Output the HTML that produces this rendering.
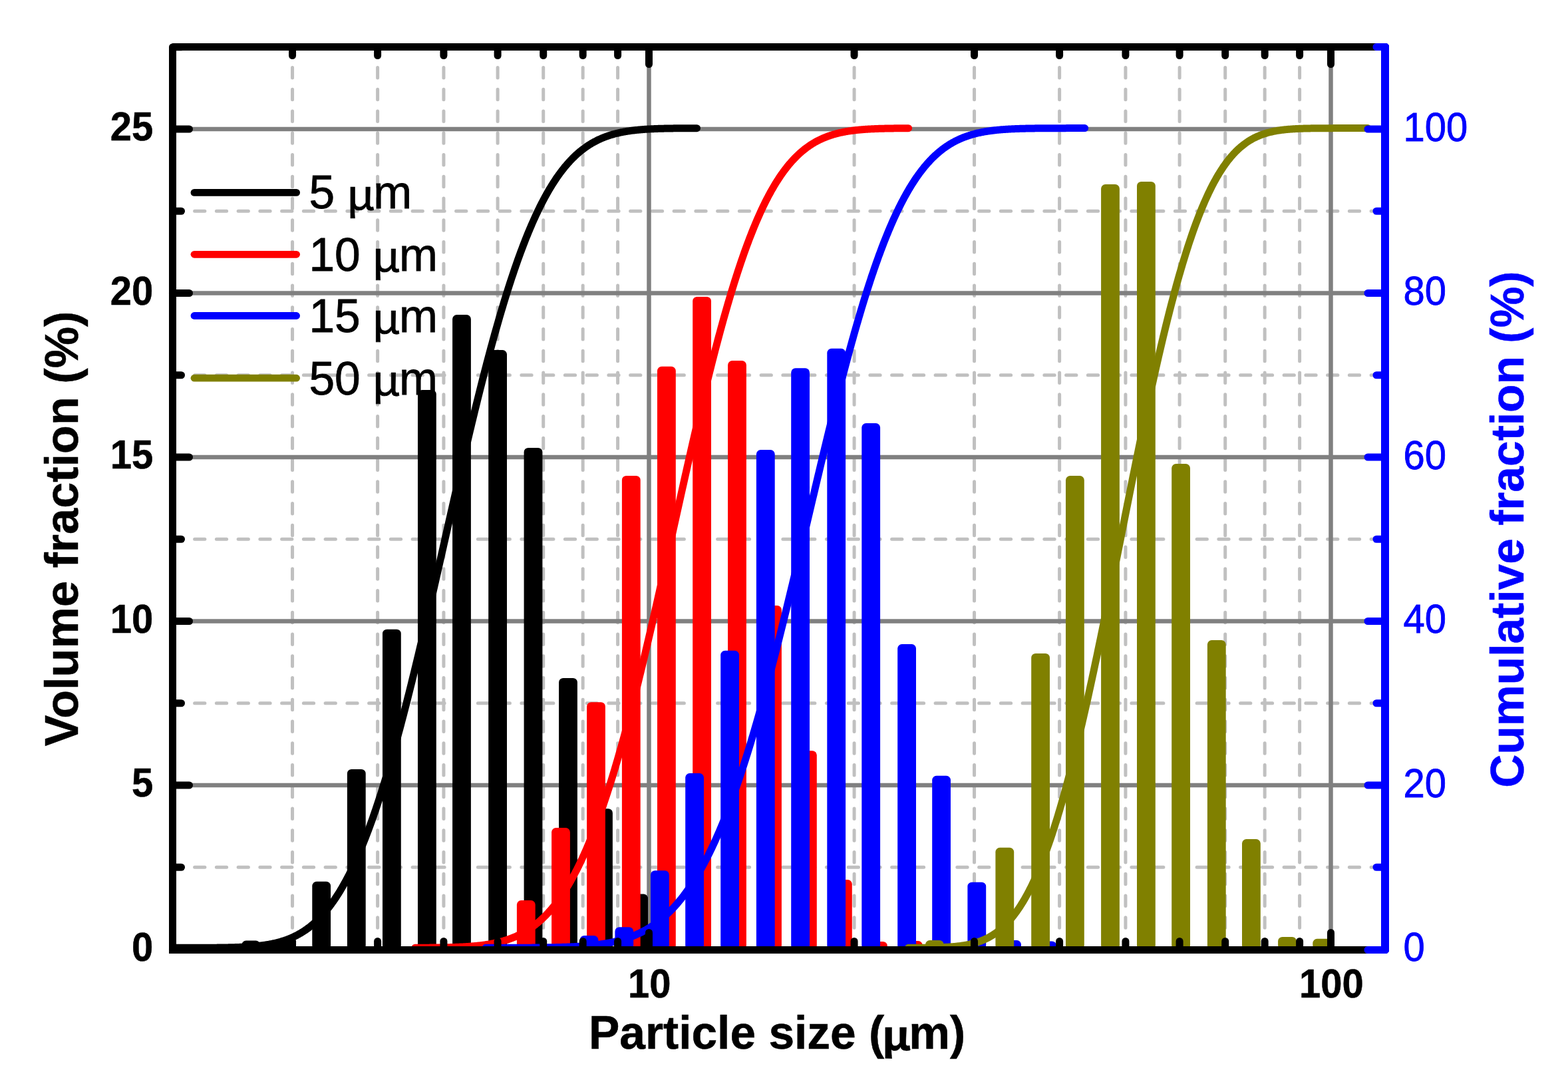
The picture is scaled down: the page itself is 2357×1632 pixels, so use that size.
<!DOCTYPE html>
<html><head><meta charset="utf-8"><title>Particle size distribution</title>
<style>html,body{margin:0;padding:0;background:#fff;}svg{display:block;}</style>
</head><body>
<svg xmlns="http://www.w3.org/2000/svg" width="2357" height="1632" viewBox="0 0 2357 1632">
<rect width="2357" height="1632" fill="#fff"/>
<g stroke="#c0c0c0" stroke-width="5" stroke-linecap="round" stroke-dasharray="15.3 17.45" fill="none">
<line x1="439.55" y1="68.85" x2="439.55" y2="1427.5"/>
<line x1="567.61" y1="68.85" x2="567.61" y2="1427.5"/>
<line x1="666.94" y1="68.85" x2="666.94" y2="1427.5"/>
<line x1="748.11" y1="68.85" x2="748.11" y2="1427.5"/>
<line x1="816.73" y1="68.85" x2="816.73" y2="1427.5"/>
<line x1="876.17" y1="68.85" x2="876.17" y2="1427.5"/>
<line x1="928.6" y1="68.85" x2="928.6" y2="1427.5"/>
<line x1="1284.06" y1="68.85" x2="1284.06" y2="1427.5"/>
<line x1="1464.55" y1="68.85" x2="1464.55" y2="1427.5"/>
<line x1="1592.61" y1="68.85" x2="1592.61" y2="1427.5"/>
<line x1="1691.94" y1="68.85" x2="1691.94" y2="1427.5"/>
<line x1="1773.11" y1="68.85" x2="1773.11" y2="1427.5"/>
<line x1="1841.73" y1="68.85" x2="1841.73" y2="1427.5"/>
<line x1="1901.17" y1="68.85" x2="1901.17" y2="1427.5"/>
<line x1="1953.6" y1="68.85" x2="1953.6" y2="1427.5"/>
<line x1="259.85" y1="1303.25" x2="2082" y2="1303.25"/>
<line x1="259.85" y1="1056.75" x2="2082" y2="1056.75"/>
<line x1="259.85" y1="810.25" x2="2082" y2="810.25"/>
<line x1="259.85" y1="563.75" x2="2082" y2="563.75"/>
<line x1="259.85" y1="317.25" x2="2082" y2="317.25"/>
</g>
<g stroke="#808080" stroke-width="6.5" fill="none">
<line x1="975.5" y1="70.5" x2="975.5" y2="1427.5"/>
<line x1="2000.5" y1="70.5" x2="2000.5" y2="1427.5"/>
<line x1="259.5" y1="1180" x2="2082" y2="1180"/>
<line x1="259.5" y1="933.5" x2="2082" y2="933.5"/>
<line x1="259.5" y1="687" x2="2082" y2="687"/>
<line x1="259.5" y1="440.5" x2="2082" y2="440.5"/>
<line x1="259.5" y1="194" x2="2082" y2="194"/>
</g>
<g fill="#000000">
<rect x="363.3" y="1413.6" width="27.8" height="13.9" rx="6.5" ry="6.5"/>
<rect x="416.5" y="1414" width="27.8" height="13.5" rx="6.5" ry="6.5"/>
<rect x="469.3" y="1324.8" width="27.8" height="102.7" rx="6.5" ry="6.5"/>
<rect x="521.9" y="1155.9" width="27.8" height="271.6" rx="6.5" ry="6.5"/>
<rect x="575" y="945.7" width="27.8" height="481.8" rx="6.5" ry="6.5"/>
<rect x="628" y="585.9" width="27.8" height="841.6" rx="6.5" ry="6.5"/>
<rect x="680.1" y="473" width="27.8" height="954.5" rx="6.5" ry="6.5"/>
<rect x="734.2" y="526.1" width="27.8" height="901.4" rx="6.5" ry="6.5"/>
<rect x="787.6" y="672.9" width="27.8" height="754.6" rx="6.5" ry="6.5"/>
<rect x="840.1" y="1018.9" width="27.8" height="408.6" rx="6.5" ry="6.5"/>
<rect x="893.1" y="1215.2" width="27.8" height="212.3" rx="6.5" ry="6.5"/>
<rect x="946.2" y="1343.5" width="27.8" height="84" rx="6.5" ry="6.5"/>
</g>
<g fill="#ff0000">
<rect x="670" y="1421" width="27.8" height="6.5" rx="6.5" ry="6.5"/>
<rect x="723.5" y="1420" width="27.8" height="7.5" rx="6.5" ry="6.5"/>
<rect x="776.9" y="1353.1" width="27.8" height="74.4" rx="6.5" ry="6.5"/>
<rect x="829.1" y="1244" width="27.8" height="183.5" rx="6.5" ry="6.5"/>
<rect x="882.1" y="1055.2" width="27.8" height="372.3" rx="6.5" ry="6.5"/>
<rect x="934.9" y="714.9" width="27.8" height="712.6" rx="6.5" ry="6.5"/>
<rect x="988" y="550.8" width="27.8" height="876.7" rx="6.5" ry="6.5"/>
<rect x="1041.2" y="445.9" width="27.8" height="981.6" rx="6.5" ry="6.5"/>
<rect x="1094.1" y="542" width="27.8" height="885.5" rx="6.5" ry="6.5"/>
<rect x="1147.1" y="910.1" width="27.8" height="517.4" rx="6.5" ry="6.5"/>
<rect x="1200" y="1128.3" width="27.8" height="299.2" rx="6.5" ry="6.5"/>
<rect x="1253" y="1322" width="27.8" height="105.5" rx="6.5" ry="6.5"/>
<rect x="1306" y="1415" width="27.8" height="12.5" rx="6.5" ry="6.5"/>
<rect x="1359" y="1414" width="27.8" height="13.5" rx="6.5" ry="6.5"/>
</g>
<g fill="#0000ff">
<rect x="766" y="1421" width="27.8" height="6.5" rx="6.5" ry="6.5"/>
<rect x="819" y="1420" width="27.8" height="7.5" rx="6.5" ry="6.5"/>
<rect x="871.6" y="1406.1" width="27.8" height="21.4" rx="6.5" ry="6.5"/>
<rect x="924.4" y="1393.2" width="27.8" height="34.3" rx="6.5" ry="6.5"/>
<rect x="978" y="1308.2" width="27.8" height="119.3" rx="6.5" ry="6.5"/>
<rect x="1030.2" y="1162" width="27.8" height="265.5" rx="6.5" ry="6.5"/>
<rect x="1083.2" y="977.8" width="27.8" height="449.7" rx="6.5" ry="6.5"/>
<rect x="1136.9" y="676.1" width="27.8" height="751.4" rx="6.5" ry="6.5"/>
<rect x="1189.2" y="553.3" width="27.8" height="874.2" rx="6.5" ry="6.5"/>
<rect x="1243.3" y="523.8" width="27.8" height="903.7" rx="6.5" ry="6.5"/>
<rect x="1295.3" y="636" width="27.8" height="791.5" rx="6.5" ry="6.5"/>
<rect x="1349.2" y="968" width="27.8" height="459.5" rx="6.5" ry="6.5"/>
<rect x="1401.2" y="1165.8" width="27.8" height="261.7" rx="6.5" ry="6.5"/>
<rect x="1454.4" y="1325.7" width="27.8" height="101.8" rx="6.5" ry="6.5"/>
<rect x="1507.2" y="1413" width="27.8" height="14.5" rx="6.5" ry="6.5"/>
<rect x="1560.2" y="1414.4" width="27.8" height="13.1" rx="6.5" ry="6.5"/>
</g>
<g fill="#808000">
<rect x="1391" y="1413" width="27.8" height="14.5" rx="6.5" ry="6.5"/>
<rect x="1496.4" y="1273.8" width="27.8" height="153.7" rx="6.5" ry="6.5"/>
<rect x="1550.2" y="981.9" width="27.8" height="445.6" rx="6.5" ry="6.5"/>
<rect x="1602" y="715" width="27.8" height="712.5" rx="6.5" ry="6.5"/>
<rect x="1655.1" y="277.1" width="27.8" height="1150.4" rx="6.5" ry="6.5"/>
<rect x="1709" y="272.9" width="27.8" height="1154.6" rx="6.5" ry="6.5"/>
<rect x="1761.2" y="697" width="27.8" height="730.5" rx="6.5" ry="6.5"/>
<rect x="1814.9" y="962" width="27.8" height="465.5" rx="6.5" ry="6.5"/>
<rect x="1867" y="1261" width="27.8" height="166.5" rx="6.5" ry="6.5"/>
<rect x="1921.1" y="1407.9" width="27.8" height="19.6" rx="6.5" ry="6.5"/>
<rect x="1973.3" y="1410.8" width="27.8" height="16.7" rx="6.5" ry="6.5"/>
</g>
<path d="M259.5 1424.3 L260.5 1424.3 L261.5 1424.3 L262.5 1424.3 L263.5 1424.3 L264.5 1424.3 L265.5 1424.3 L266.5 1424.3 L267.5 1424.3 L268.5 1424.29 L269.5 1424.29 L270.5 1424.29 L271.5 1424.29 L272.5 1424.29 L273.5 1424.29 L274.5 1424.29 L275.5 1424.29 L276.5 1424.29 L277.5 1424.29 L278.5 1424.29 L279.5 1424.29 L280.5 1424.29 L281.5 1424.29 L282.5 1424.29 L283.5 1424.29 L284.5 1424.28 L285.5 1424.28 L286.5 1424.28 L287.5 1424.28 L288.5 1424.28 L289.5 1424.28 L290.5 1424.28 L291.5 1424.28 L292.5 1424.27 L293.5 1424.27 L294.5 1424.27 L295.5 1424.27 L296.5 1424.27 L297.5 1424.26 L298.5 1424.26 L299.5 1424.26 L300.5 1424.26 L301.5 1424.25 L302.5 1424.25 L303.5 1424.25 L304.5 1424.25 L305.5 1424.24 L306.5 1424.24 L307.5 1424.24 L308.5 1424.23 L309.5 1424.23 L310.5 1424.22 L311.5 1424.22 L312.5 1424.21 L313.5 1424.21 L314.5 1424.2 L315.5 1424.2 L316.5 1424.19 L317.5 1424.19 L318.5 1424.18 L319.5 1424.17 L320.5 1424.17 L321.5 1424.16 L322.5 1424.15 L323.5 1424.14 L324.5 1424.14 L325.5 1424.13 L326.5 1424.12 L327.5 1424.11 L328.5 1424.1 L329.5 1424.09 L330.5 1424.08 L331.5 1424.06 L332.5 1424.05 L333.5 1424.04 L334.5 1424.02 L335.5 1424.01 L336.5 1424 L337.5 1423.98 L338.5 1423.96 L339.5 1423.95 L340.5 1423.93 L341.5 1423.91 L342.5 1423.89 L343.5 1423.87 L344.5 1423.85 L345.5 1423.83 L346.5 1423.81 L347.5 1423.78 L348.5 1423.76 L349.5 1423.73 L350.5 1423.71 L351.5 1423.68 L352.5 1423.65 L353.5 1423.62 L354.5 1423.59 L355.5 1423.55 L356.5 1423.52 L357.5 1423.49 L358.5 1423.45 L359.5 1423.41 L360.5 1423.37 L361.5 1423.33 L362.5 1423.29 L363.5 1423.24 L364.5 1423.19 L365.5 1423.15 L366.5 1423.1 L367.5 1423.04 L368.5 1422.99 L369.5 1422.93 L370.5 1422.88 L371.5 1422.82 L372.5 1422.75 L373.5 1422.69 L374.5 1422.62 L375.5 1422.55 L376.5 1422.48 L377.5 1422.41 L378.5 1422.33 L379.5 1422.25 L380.5 1422.17 L381.5 1422.08 L382.5 1421.99 L383.5 1421.9 L384.5 1421.81 L385.5 1421.71 L386.5 1421.61 L387.5 1421.5 L388.5 1421.4 L389.5 1421.29 L390.5 1421.17 L391.5 1421.05 L392.5 1420.93 L393.5 1420.8 L394.5 1420.67 L395.5 1420.54 L396.5 1420.4 L397.5 1420.26 L398.5 1420.11 L399.5 1419.96 L400.5 1419.8 L401.5 1419.64 L402.5 1419.47 L403.5 1419.3 L404.5 1419.12 L405.5 1418.94 L406.5 1418.76 L407.5 1418.56 L408.5 1418.36 L409.5 1418.16 L410.5 1417.95 L411.5 1417.73 L412.5 1417.51 L413.5 1417.28 L414.5 1417.05 L415.5 1416.81 L416.5 1416.56 L417.5 1416.31 L418.5 1416.04 L419.5 1415.77 L420.5 1415.5 L421.5 1415.22 L422.5 1414.92 L423.5 1414.63 L424.5 1414.32 L425.5 1414.01 L426.5 1413.68 L427.5 1413.35 L428.5 1413.01 L429.5 1412.67 L430.5 1412.31 L431.5 1411.94 L432.5 1411.57 L433.5 1411.18 L434.5 1410.79 L435.5 1410.39 L436.5 1409.98 L437.5 1409.55 L438.5 1409.12 L439.5 1408.68 L440.5 1408.23 L441.5 1407.76 L442.5 1407.29 L443.5 1406.8 L444.5 1406.31 L445.5 1405.8 L446.5 1405.28 L447.5 1404.75 L448.5 1404.21 L449.5 1403.65 L450.5 1403.08 L451.5 1402.51 L452.5 1401.91 L453.5 1401.31 L454.5 1400.69 L455.5 1400.06 L456.5 1399.42 L457.5 1398.76 L458.5 1398.09 L459.5 1397.41 L460.5 1396.71 L461.5 1396 L462.5 1395.27 L463.5 1394.53 L464.5 1393.77 L465.5 1393 L466.5 1392.21 L467.5 1391.41 L468.5 1390.6 L469.5 1389.76 L470.5 1388.92 L471.5 1388.05 L472.5 1387.17 L473.5 1386.27 L474.5 1385.36 L475.5 1384.43 L476.5 1383.48 L477.5 1382.52 L478.5 1381.54 L479.5 1380.54 L480.5 1379.52 L481.5 1378.49 L482.5 1377.44 L483.5 1376.37 L484.5 1375.28 L485.5 1374.17 L486.5 1373.05 L487.5 1371.9 L488.5 1370.74 L489.5 1369.56 L490.5 1368.35 L491.5 1367.13 L492.5 1365.89 L493.5 1364.63 L494.5 1363.35 L495.5 1362.05 L496.5 1360.73 L497.5 1359.38 L498.5 1358.02 L499.5 1356.64 L500.5 1355.23 L501.5 1353.81 L502.5 1352.36 L503.5 1350.9 L504.5 1349.41 L505.5 1347.9 L506.5 1346.36 L507.5 1344.81 L508.5 1343.23 L509.5 1341.64 L510.5 1340.01 L511.5 1338.37 L512.5 1336.71 L513.5 1335.02 L514.5 1333.31 L515.5 1331.57 L516.5 1329.82 L517.5 1328.04 L518.5 1326.24 L519.5 1324.41 L520.5 1322.56 L521.5 1320.69 L522.5 1318.79 L523.5 1316.87 L524.5 1314.93 L525.5 1312.96 L526.5 1310.97 L527.5 1308.95 L528.5 1306.91 L529.5 1304.85 L530.5 1302.76 L531.5 1300.65 L532.5 1298.52 L533.5 1296.36 L534.5 1294.17 L535.5 1291.96 L536.5 1289.73 L537.5 1287.47 L538.5 1285.19 L539.5 1282.88 L540.5 1280.55 L541.5 1278.19 L542.5 1275.81 L543.5 1273.4 L544.5 1270.97 L545.5 1268.52 L546.5 1266.04 L547.5 1263.53 L548.5 1261 L549.5 1258.45 L550.5 1255.87 L551.5 1253.27 L552.5 1250.64 L553.5 1247.99 L554.5 1245.31 L555.5 1242.61 L556.5 1239.88 L557.5 1237.13 L558.5 1234.35 L559.5 1231.55 L560.5 1228.73 L561.5 1225.88 L562.5 1223 L563.5 1220.1 L564.5 1217.18 L565.5 1214.24 L566.5 1211.27 L567.5 1208.27 L568.5 1205.25 L569.5 1202.21 L570.5 1199.14 L571.5 1196.06 L572.5 1192.94 L573.5 1189.81 L574.5 1186.65 L575.5 1183.46 L576.5 1180.26 L577.5 1177.03 L578.5 1173.78 L579.5 1170.5 L580.5 1167.2 L581.5 1163.88 L582.5 1160.54 L583.5 1157.18 L584.5 1153.79 L585.5 1150.38 L586.5 1146.95 L587.5 1143.5 L588.5 1140.02 L589.5 1136.53 L590.5 1133.01 L591.5 1129.48 L592.5 1125.92 L593.5 1122.34 L594.5 1118.74 L595.5 1115.12 L596.5 1111.48 L597.5 1107.82 L598.5 1104.14 L599.5 1100.44 L600.5 1096.72 L601.5 1092.99 L602.5 1089.23 L603.5 1085.46 L604.5 1081.66 L605.5 1077.85 L606.5 1074.02 L607.5 1070.17 L608.5 1066.31 L609.5 1062.42 L610.5 1058.52 L611.5 1054.61 L612.5 1050.67 L613.5 1046.72 L614.5 1042.76 L615.5 1038.78 L616.5 1034.78 L617.5 1030.77 L618.5 1026.74 L619.5 1022.69 L620.5 1018.64 L621.5 1014.56 L622.5 1010.48 L623.5 1006.38 L624.5 1002.26 L625.5 998.14 L626.5 993.99 L627.5 989.84 L628.5 985.68 L629.5 981.5 L630.5 977.31 L631.5 973.11 L632.5 968.89 L633.5 964.67 L634.5 960.43 L635.5 956.19 L636.5 951.93 L637.5 947.67 L638.5 943.39 L639.5 939.11 L640.5 934.81 L641.5 930.51 L642.5 926.2 L643.5 921.88 L644.5 917.56 L645.5 913.22 L646.5 908.88 L647.5 904.53 L648.5 900.18 L649.5 895.82 L650.5 891.45 L651.5 887.08 L652.5 882.7 L653.5 878.32 L654.5 873.93 L655.5 869.54 L656.5 865.15 L657.5 860.75 L658.5 856.34 L659.5 851.94 L660.5 847.53 L661.5 843.12 L662.5 838.71 L663.5 834.29 L664.5 829.88 L665.5 825.46 L666.5 821.04 L667.5 816.62 L668.5 812.2 L669.5 807.78 L670.5 803.37 L671.5 798.95 L672.5 794.53 L673.5 790.12 L674.5 785.71 L675.5 781.29 L676.5 776.89 L677.5 772.48 L678.5 768.08 L679.5 763.68 L680.5 759.28 L681.5 754.89 L682.5 750.5 L683.5 746.12 L684.5 741.74 L685.5 737.37 L686.5 733 L687.5 728.64 L688.5 724.29 L689.5 719.94 L690.5 715.6 L691.5 711.26 L692.5 706.94 L693.5 702.62 L694.5 698.31 L695.5 694 L696.5 689.71 L697.5 685.42 L698.5 681.15 L699.5 676.88 L700.5 672.62 L701.5 668.38 L702.5 664.14 L703.5 659.91 L704.5 655.7 L705.5 651.5 L706.5 647.3 L707.5 643.12 L708.5 638.95 L709.5 634.8 L710.5 630.65 L711.5 626.52 L712.5 622.41 L713.5 618.3 L714.5 614.21 L715.5 610.13 L716.5 606.07 L717.5 602.02 L718.5 597.99 L719.5 593.97 L720.5 589.97 L721.5 585.98 L722.5 582.01 L723.5 578.05 L724.5 574.11 L725.5 570.19 L726.5 566.28 L727.5 562.39 L728.5 558.51 L729.5 554.66 L730.5 550.82 L731.5 547 L732.5 543.19 L733.5 539.41 L734.5 535.64 L735.5 531.89 L736.5 528.16 L737.5 524.45 L738.5 520.76 L739.5 517.09 L740.5 513.43 L741.5 509.8 L742.5 506.18 L743.5 502.59 L744.5 499.02 L745.5 495.46 L746.5 491.93 L747.5 488.42 L748.5 484.93 L749.5 481.45 L750.5 478.01 L751.5 474.58 L752.5 471.17 L753.5 467.78 L754.5 464.42 L755.5 461.08 L756.5 457.76 L757.5 454.46 L758.5 451.18 L759.5 447.93 L760.5 444.7 L761.5 441.49 L762.5 438.3 L763.5 435.14 L764.5 432 L765.5 428.88 L766.5 425.78 L767.5 422.71 L768.5 419.66 L769.5 416.64 L770.5 413.64 L771.5 410.66 L772.5 407.7 L773.5 404.77 L774.5 401.86 L775.5 398.98 L776.5 396.11 L777.5 393.28 L778.5 390.46 L779.5 387.67 L780.5 384.91 L781.5 382.17 L782.5 379.45 L783.5 376.75 L784.5 374.08 L785.5 371.44 L786.5 368.81 L787.5 366.22 L788.5 363.64 L789.5 361.09 L790.5 358.57 L791.5 356.06 L792.5 353.59 L793.5 351.13 L794.5 348.7 L795.5 346.3 L796.5 343.91 L797.5 341.56 L798.5 339.22 L799.5 336.91 L800.5 334.62 L801.5 332.36 L802.5 330.12 L803.5 327.91 L804.5 325.72 L805.5 323.55 L806.5 321.41 L807.5 319.29 L808.5 317.19 L809.5 315.11 L810.5 313.06 L811.5 311.04 L812.5 309.03 L813.5 307.05 L814.5 305.1 L815.5 303.16 L816.5 301.25 L817.5 299.36 L818.5 297.5 L819.5 295.65 L820.5 293.83 L821.5 292.04 L822.5 290.26 L823.5 288.51 L824.5 286.78 L825.5 285.07 L826.5 283.38 L827.5 281.71 L828.5 280.07 L829.5 278.45 L830.5 276.85 L831.5 275.27 L832.5 273.71 L833.5 272.18 L834.5 270.66 L835.5 269.17 L836.5 267.69 L837.5 266.24 L838.5 264.81 L839.5 263.39 L840.5 262 L841.5 260.63 L842.5 259.28 L843.5 257.95 L844.5 256.63 L845.5 255.34 L846.5 254.07 L847.5 252.81 L848.5 251.58 L849.5 250.36 L850.5 249.16 L851.5 247.98 L852.5 246.82 L853.5 245.68 L854.5 244.56 L855.5 243.45 L856.5 242.36 L857.5 241.29 L858.5 240.24 L859.5 239.2 L860.5 238.18 L861.5 237.18 L862.5 236.2 L863.5 235.23 L864.5 234.28 L865.5 233.34 L866.5 232.42 L867.5 231.52 L868.5 230.63 L869.5 229.76 L870.5 228.91 L871.5 228.07 L872.5 227.24 L873.5 226.43 L874.5 225.63 L875.5 224.85 L876.5 224.09 L877.5 223.33 L878.5 222.6 L879.5 221.87 L880.5 221.16 L881.5 220.46 L882.5 219.78 L883.5 219.11 L884.5 218.45 L885.5 217.81 L886.5 217.18 L887.5 216.56 L888.5 215.95 L889.5 215.36 L890.5 214.78 L891.5 214.21 L892.5 213.65 L893.5 213.1 L894.5 212.57 L895.5 212.05 L896.5 211.53 L897.5 211.03 L898.5 210.54 L899.5 210.06 L900.5 209.59 L901.5 209.13 L902.5 208.68 L903.5 208.24 L904.5 207.81 L905.5 207.39 L906.5 206.98 L907.5 206.58 L908.5 206.19 L909.5 205.8 L910.5 205.43 L911.5 205.06 L912.5 204.71 L913.5 204.36 L914.5 204.02 L915.5 203.69 L916.5 203.36 L917.5 203.05 L918.5 202.74 L919.5 202.44 L920.5 202.14 L921.5 201.86 L922.5 201.58 L923.5 201.31 L924.5 201.04 L925.5 200.78 L926.5 200.53 L927.5 200.29 L928.5 200.05 L929.5 199.81 L930.5 199.59 L931.5 199.37 L932.5 199.15 L933.5 198.94 L934.5 198.74 L935.5 198.54 L936.5 198.35 L937.5 198.16 L938.5 197.98 L939.5 197.8 L940.5 197.63 L941.5 197.46 L942.5 197.3 L943.5 197.14 L944.5 196.99 L945.5 196.84 L946.5 196.7 L947.5 196.56 L948.5 196.42 L949.5 196.29 L950.5 196.16 L951.5 196.04 L952.5 195.92 L953.5 195.8 L954.5 195.69 L955.5 195.58 L956.5 195.47 L957.5 195.37 L958.5 195.27 L959.5 195.17 L960.5 195.07 L961.5 194.98 L962.5 194.9 L963.5 194.81 L964.5 194.73 L965.5 194.65 L966.5 194.57 L967.5 194.5 L968.5 194.42 L969.5 194.35 L970.5 194.29 L971.5 194.22 L972.5 194.16 L973.5 194.1 L974.5 194.04 L975.5 193.98 L976.5 193.93 L977.5 193.87 L978.5 193.82 L979.5 193.77 L980.5 193.73 L981.5 193.68 L982.5 193.64 L983.5 193.59 L984.5 193.55 L985.5 193.51 L986.5 193.48 L987.5 193.44 L988.5 193.4 L989.5 193.37 L990.5 193.34 L991.5 193.31 L992.5 193.28 L993.5 193.25 L994.5 193.22 L995.5 193.19 L996.5 193.17 L997.5 193.14 L998.5 193.12 L999.5 193.09 L1000.5 193.07 L1001.5 193.05 L1002.5 193.03 L1003.5 193.01 L1004.5 192.99 L1005.5 192.97 L1006.5 192.96 L1007.5 192.94 L1008.5 192.92 L1009.5 192.91 L1010.5 192.89 L1011.5 192.88 L1012.5 192.87 L1013.5 192.85 L1014.5 192.84 L1015.5 192.83 L1016.5 192.82 L1017.5 192.81 L1018.5 192.8 L1019.5 192.79 L1020.5 192.78 L1021.5 192.77 L1022.5 192.76 L1023.5 192.75 L1024.5 192.75 L1025.5 192.74 L1026.5 192.73 L1027.5 192.73 L1028.5 192.72 L1029.5 192.71 L1030.5 192.71 L1031.5 192.7 L1032.5 192.7 L1033.5 192.69 L1034.5 192.69 L1035.5 192.68 L1036.5 192.68 L1037.5 192.67 L1038.5 192.67 L1039.5 192.67 L1040.5 192.66 L1041.5 192.66 L1042.5 192.66 L1043.5 192.65 L1044.5 192.65 L1045.5 192.65 L1046.5 192.64 L1047.5 192.64" fill="none" stroke="#000000" stroke-width="11" stroke-linejoin="round" stroke-linecap="round"/>
<path d="M624 1424.24 L625 1424.24 L626 1424.23 L627 1424.23 L628 1424.22 L629 1424.22 L630 1424.22 L631 1424.21 L632 1424.21 L633 1424.2 L634 1424.2 L635 1424.19 L636 1424.19 L637 1424.18 L638 1424.18 L639 1424.17 L640 1424.16 L641 1424.16 L642 1424.15 L643 1424.14 L644 1424.14 L645 1424.13 L646 1424.12 L647 1424.11 L648 1424.1 L649 1424.09 L650 1424.08 L651 1424.07 L652 1424.06 L653 1424.05 L654 1424.04 L655 1424.03 L656 1424.02 L657 1424.01 L658 1423.99 L659 1423.98 L660 1423.96 L661 1423.95 L662 1423.93 L663 1423.92 L664 1423.9 L665 1423.88 L666 1423.87 L667 1423.85 L668 1423.83 L669 1423.81 L670 1423.79 L671 1423.76 L672 1423.74 L673 1423.72 L674 1423.69 L675 1423.67 L676 1423.64 L677 1423.61 L678 1423.59 L679 1423.56 L680 1423.53 L681 1423.5 L682 1423.46 L683 1423.43 L684 1423.39 L685 1423.36 L686 1423.32 L687 1423.28 L688 1423.24 L689 1423.2 L690 1423.16 L691 1423.11 L692 1423.07 L693 1423.02 L694 1422.97 L695 1422.92 L696 1422.87 L697 1422.82 L698 1422.76 L699 1422.7 L700 1422.64 L701 1422.58 L702 1422.52 L703 1422.45 L704 1422.39 L705 1422.32 L706 1422.24 L707 1422.17 L708 1422.09 L709 1422.01 L710 1421.93 L711 1421.85 L712 1421.76 L713 1421.67 L714 1421.58 L715 1421.49 L716 1421.39 L717 1421.29 L718 1421.19 L719 1421.08 L720 1420.97 L721 1420.86 L722 1420.74 L723 1420.62 L724 1420.5 L725 1420.38 L726 1420.25 L727 1420.11 L728 1419.98 L729 1419.83 L730 1419.69 L731 1419.54 L732 1419.39 L733 1419.23 L734 1419.07 L735 1418.9 L736 1418.73 L737 1418.56 L738 1418.38 L739 1418.19 L740 1418 L741 1417.81 L742 1417.61 L743 1417.41 L744 1417.2 L745 1416.98 L746 1416.76 L747 1416.53 L748 1416.3 L749 1416.06 L750 1415.82 L751 1415.57 L752 1415.31 L753 1415.05 L754 1414.78 L755 1414.51 L756 1414.23 L757 1413.94 L758 1413.64 L759 1413.34 L760 1413.03 L761 1412.71 L762 1412.39 L763 1412.05 L764 1411.71 L765 1411.37 L766 1411.01 L767 1410.65 L768 1410.28 L769 1409.89 L770 1409.51 L771 1409.11 L772 1408.7 L773 1408.29 L774 1407.86 L775 1407.43 L776 1406.99 L777 1406.53 L778 1406.07 L779 1405.6 L780 1405.12 L781 1404.63 L782 1404.12 L783 1403.61 L784 1403.09 L785 1402.55 L786 1402.01 L787 1401.45 L788 1400.89 L789 1400.31 L790 1399.72 L791 1399.12 L792 1398.5 L793 1397.88 L794 1397.24 L795 1396.59 L796 1395.93 L797 1395.25 L798 1394.57 L799 1393.87 L800 1393.15 L801 1392.43 L802 1391.68 L803 1390.93 L804 1390.16 L805 1389.38 L806 1388.58 L807 1387.77 L808 1386.95 L809 1386.11 L810 1385.26 L811 1384.39 L812 1383.5 L813 1382.6 L814 1381.69 L815 1380.76 L816 1379.81 L817 1378.85 L818 1377.87 L819 1376.88 L820 1375.86 L821 1374.84 L822 1373.79 L823 1372.73 L824 1371.65 L825 1370.56 L826 1369.44 L827 1368.31 L828 1367.16 L829 1366 L830 1364.81 L831 1363.61 L832 1362.39 L833 1361.15 L834 1359.89 L835 1358.61 L836 1357.32 L837 1356 L838 1354.67 L839 1353.31 L840 1351.94 L841 1350.54 L842 1349.13 L843 1347.7 L844 1346.24 L845 1344.77 L846 1343.28 L847 1341.76 L848 1340.22 L849 1338.67 L850 1337.09 L851 1335.49 L852 1333.87 L853 1332.23 L854 1330.57 L855 1328.88 L856 1327.18 L857 1325.45 L858 1323.7 L859 1321.92 L860 1320.13 L861 1318.31 L862 1316.47 L863 1314.61 L864 1312.73 L865 1310.82 L866 1308.89 L867 1306.94 L868 1304.96 L869 1302.96 L870 1300.94 L871 1298.89 L872 1296.82 L873 1294.73 L874 1292.61 L875 1290.47 L876 1288.31 L877 1286.12 L878 1283.91 L879 1281.67 L880 1279.41 L881 1277.13 L882 1274.82 L883 1272.49 L884 1270.14 L885 1267.76 L886 1265.35 L887 1262.92 L888 1260.47 L889 1257.99 L890 1255.49 L891 1252.97 L892 1250.42 L893 1247.84 L894 1245.24 L895 1242.62 L896 1239.97 L897 1237.3 L898 1234.6 L899 1231.88 L900 1229.13 L901 1226.36 L902 1223.57 L903 1220.75 L904 1217.91 L905 1215.04 L906 1212.15 L907 1209.23 L908 1206.29 L909 1203.32 L910 1200.34 L911 1197.32 L912 1194.29 L913 1191.22 L914 1188.14 L915 1185.03 L916 1181.9 L917 1178.74 L918 1175.56 L919 1172.36 L920 1169.13 L921 1165.88 L922 1162.61 L923 1159.31 L924 1155.99 L925 1152.65 L926 1149.28 L927 1145.9 L928 1142.49 L929 1139.05 L930 1135.6 L931 1132.12 L932 1128.62 L933 1125.1 L934 1121.55 L935 1117.99 L936 1114.4 L937 1110.8 L938 1107.17 L939 1103.52 L940 1099.85 L941 1096.15 L942 1092.44 L943 1088.71 L944 1084.96 L945 1081.18 L946 1077.39 L947 1073.58 L948 1069.75 L949 1065.9 L950 1062.03 L951 1058.14 L952 1054.24 L953 1050.31 L954 1046.37 L955 1042.41 L956 1038.43 L957 1034.44 L958 1030.43 L959 1026.4 L960 1022.35 L961 1018.29 L962 1014.21 L963 1010.12 L964 1006.01 L965 1001.88 L966 997.74 L967 993.58 L968 989.41 L969 985.23 L970 981.03 L971 976.82 L972 972.59 L973 968.36 L974 964.1 L975 959.84 L976 955.56 L977 951.28 L978 946.98 L979 942.66 L980 938.34 L981 934.01 L982 929.67 L983 925.31 L984 920.95 L985 916.57 L986 912.19 L987 907.8 L988 903.4 L989 898.99 L990 894.57 L991 890.15 L992 885.72 L993 881.28 L994 876.84 L995 872.39 L996 867.93 L997 863.47 L998 859 L999 854.53 L1000 850.05 L1001 845.57 L1002 841.08 L1003 836.59 L1004 832.1 L1005 827.61 L1006 823.11 L1007 818.61 L1008 814.11 L1009 809.6 L1010 805.1 L1011 800.59 L1012 796.09 L1013 791.58 L1014 787.08 L1015 782.58 L1016 778.07 L1017 773.57 L1018 769.07 L1019 764.57 L1020 760.08 L1021 755.58 L1022 751.09 L1023 746.61 L1024 742.13 L1025 737.65 L1026 733.17 L1027 728.7 L1028 724.24 L1029 719.78 L1030 715.33 L1031 710.89 L1032 706.45 L1033 702.02 L1034 697.59 L1035 693.17 L1036 688.76 L1037 684.36 L1038 679.97 L1039 675.59 L1040 671.22 L1041 666.85 L1042 662.5 L1043 658.15 L1044 653.82 L1045 649.5 L1046 645.19 L1047 640.89 L1048 636.6 L1049 632.33 L1050 628.07 L1051 623.82 L1052 619.58 L1053 615.36 L1054 611.15 L1055 606.96 L1056 602.78 L1057 598.61 L1058 594.46 L1059 590.33 L1060 586.21 L1061 582.11 L1062 578.02 L1063 573.95 L1064 569.9 L1065 565.86 L1066 561.84 L1067 557.84 L1068 553.85 L1069 549.89 L1070 545.94 L1071 542.01 L1072 538.1 L1073 534.21 L1074 530.34 L1075 526.49 L1076 522.65 L1077 518.84 L1078 515.05 L1079 511.28 L1080 507.52 L1081 503.79 L1082 500.08 L1083 496.4 L1084 492.73 L1085 489.09 L1086 485.46 L1087 481.86 L1088 478.28 L1089 474.73 L1090 471.19 L1091 467.68 L1092 464.2 L1093 460.73 L1094 457.29 L1095 453.87 L1096 450.48 L1097 447.11 L1098 443.76 L1099 440.44 L1100 437.14 L1101 433.87 L1102 430.62 L1103 427.39 L1104 424.19 L1105 421.01 L1106 417.86 L1107 414.74 L1108 411.64 L1109 408.56 L1110 405.51 L1111 402.48 L1112 399.48 L1113 396.51 L1114 393.56 L1115 390.63 L1116 387.74 L1117 384.86 L1118 382.02 L1119 379.2 L1120 376.4 L1121 373.63 L1122 370.89 L1123 368.17 L1124 365.48 L1125 362.81 L1126 360.17 L1127 357.56 L1128 354.97 L1129 352.41 L1130 349.87 L1131 347.36 L1132 344.88 L1133 342.42 L1134 339.99 L1135 337.58 L1136 335.2 L1137 332.85 L1138 330.52 L1139 328.21 L1140 325.94 L1141 323.68 L1142 321.46 L1143 319.26 L1144 317.08 L1145 314.93 L1146 312.81 L1147 310.71 L1148 308.63 L1149 306.58 L1150 304.56 L1151 302.56 L1152 300.58 L1153 298.63 L1154 296.71 L1155 294.81 L1156 292.93 L1157 291.08 L1158 289.25 L1159 287.45 L1160 285.67 L1161 283.91 L1162 282.18 L1163 280.47 L1164 278.78 L1165 277.12 L1166 275.48 L1167 273.86 L1168 272.27 L1169 270.7 L1170 269.15 L1171 267.63 L1172 266.12 L1173 264.64 L1174 263.18 L1175 261.75 L1176 260.33 L1177 258.94 L1178 257.56 L1179 256.21 L1180 254.88 L1181 253.57 L1182 252.28 L1183 251.02 L1184 249.77 L1185 248.54 L1186 247.33 L1187 246.14 L1188 244.98 L1189 243.83 L1190 242.7 L1191 241.59 L1192 240.49 L1193 239.42 L1194 238.37 L1195 237.33 L1196 236.31 L1197 235.31 L1198 234.33 L1199 233.36 L1200 232.42 L1201 231.49 L1202 230.57 L1203 229.68 L1204 228.8 L1205 227.93 L1206 227.08 L1207 226.25 L1208 225.44 L1209 224.64 L1210 223.85 L1211 223.08 L1212 222.33 L1213 221.59 L1214 220.87 L1215 220.16 L1216 219.46 L1217 218.78 L1218 218.11 L1219 217.46 L1220 216.81 L1221 216.19 L1222 215.57 L1223 214.97 L1224 214.38 L1225 213.81 L1226 213.24 L1227 212.69 L1228 212.15 L1229 211.62 L1230 211.11 L1231 210.6 L1232 210.11 L1233 209.63 L1234 209.16 L1235 208.69 L1236 208.24 L1237 207.8 L1238 207.38 L1239 206.96 L1240 206.55 L1241 206.15 L1242 205.76 L1243 205.37 L1244 205 L1245 204.64 L1246 204.29 L1247 203.94 L1248 203.6 L1249 203.27 L1250 202.95 L1251 202.64 L1252 202.34 L1253 202.04 L1254 201.75 L1255 201.47 L1256 201.2 L1257 200.93 L1258 200.67 L1259 200.42 L1260 200.17 L1261 199.93 L1262 199.7 L1263 199.47 L1264 199.25 L1265 199.03 L1266 198.82 L1267 198.62 L1268 198.42 L1269 198.23 L1270 198.05 L1271 197.86 L1272 197.69 L1273 197.52 L1274 197.35 L1275 197.19 L1276 197.03 L1277 196.88 L1278 196.73 L1279 196.59 L1280 196.45 L1281 196.32 L1282 196.19 L1283 196.06 L1284 195.94 L1285 195.82 L1286 195.7 L1287 195.59 L1288 195.48 L1289 195.38 L1290 195.28 L1291 195.18 L1292 195.08 L1293 194.99 L1294 194.9 L1295 194.82 L1296 194.73 L1297 194.65 L1298 194.57 L1299 194.5 L1300 194.43 L1301 194.36 L1302 194.29 L1303 194.22 L1304 194.16 L1305 194.1 L1306 194.04 L1307 193.98 L1308 193.93 L1309 193.87 L1310 193.82 L1311 193.77 L1312 193.73 L1313 193.68 L1314 193.64 L1315 193.59 L1316 193.55 L1317 193.51 L1318 193.47 L1319 193.44 L1320 193.4 L1321 193.37 L1322 193.34 L1323 193.3 L1324 193.27 L1325 193.24 L1326 193.22 L1327 193.19 L1328 193.16 L1329 193.14 L1330 193.12 L1331 193.09 L1332 193.07 L1333 193.05 L1334 193.03 L1335 193.01 L1336 192.99 L1337 192.97 L1338 192.96 L1339 192.94 L1340 192.92 L1341 192.91 L1342 192.89 L1343 192.88 L1344 192.87 L1345 192.85 L1346 192.84 L1347 192.83 L1348 192.82 L1349 192.81 L1350 192.8 L1351 192.79 L1352 192.78 L1353 192.77 L1354 192.76 L1355 192.75 L1356 192.75 L1357 192.74 L1358 192.73 L1359 192.73 L1360 192.72 L1361 192.71 L1362 192.71 L1363 192.7 L1364 192.7 L1365 192.69 L1365.6 192.69" fill="none" stroke="#ff0000" stroke-width="11" stroke-linejoin="round" stroke-linecap="round"/>
<path d="M730 1424.29 L731 1424.29 L732 1424.29 L733 1424.29 L734 1424.29 L735 1424.29 L736 1424.29 L737 1424.29 L738 1424.29 L739 1424.29 L740 1424.29 L741 1424.29 L742 1424.29 L743 1424.29 L744 1424.28 L745 1424.28 L746 1424.28 L747 1424.28 L748 1424.28 L749 1424.28 L750 1424.28 L751 1424.28 L752 1424.28 L753 1424.28 L754 1424.28 L755 1424.27 L756 1424.27 L757 1424.27 L758 1424.27 L759 1424.27 L760 1424.27 L761 1424.27 L762 1424.26 L763 1424.26 L764 1424.26 L765 1424.26 L766 1424.26 L767 1424.26 L768 1424.25 L769 1424.25 L770 1424.25 L771 1424.25 L772 1424.24 L773 1424.24 L774 1424.24 L775 1424.24 L776 1424.23 L777 1424.23 L778 1424.23 L779 1424.22 L780 1424.22 L781 1424.22 L782 1424.21 L783 1424.21 L784 1424.21 L785 1424.2 L786 1424.2 L787 1424.19 L788 1424.19 L789 1424.18 L790 1424.18 L791 1424.17 L792 1424.17 L793 1424.16 L794 1424.16 L795 1424.15 L796 1424.15 L797 1424.14 L798 1424.13 L799 1424.13 L800 1424.12 L801 1424.11 L802 1424.11 L803 1424.1 L804 1424.09 L805 1424.08 L806 1424.07 L807 1424.06 L808 1424.05 L809 1424.05 L810 1424.04 L811 1424.02 L812 1424.01 L813 1424 L814 1423.99 L815 1423.98 L816 1423.97 L817 1423.96 L818 1423.94 L819 1423.93 L820 1423.91 L821 1423.9 L822 1423.89 L823 1423.87 L824 1423.85 L825 1423.84 L826 1423.82 L827 1423.8 L828 1423.79 L829 1423.77 L830 1423.75 L831 1423.73 L832 1423.71 L833 1423.69 L834 1423.66 L835 1423.64 L836 1423.62 L837 1423.59 L838 1423.57 L839 1423.54 L840 1423.52 L841 1423.49 L842 1423.46 L843 1423.43 L844 1423.4 L845 1423.37 L846 1423.34 L847 1423.31 L848 1423.28 L849 1423.24 L850 1423.21 L851 1423.17 L852 1423.13 L853 1423.09 L854 1423.05 L855 1423.01 L856 1422.97 L857 1422.93 L858 1422.88 L859 1422.84 L860 1422.79 L861 1422.74 L862 1422.69 L863 1422.64 L864 1422.59 L865 1422.53 L866 1422.48 L867 1422.42 L868 1422.36 L869 1422.3 L870 1422.24 L871 1422.17 L872 1422.11 L873 1422.04 L874 1421.97 L875 1421.9 L876 1421.83 L877 1421.75 L878 1421.67 L879 1421.59 L880 1421.51 L881 1421.43 L882 1421.34 L883 1421.26 L884 1421.17 L885 1421.08 L886 1420.98 L887 1420.88 L888 1420.78 L889 1420.68 L890 1420.58 L891 1420.47 L892 1420.36 L893 1420.25 L894 1420.13 L895 1420.02 L896 1419.9 L897 1419.77 L898 1419.64 L899 1419.51 L900 1419.38 L901 1419.25 L902 1419.11 L903 1418.96 L904 1418.82 L905 1418.67 L906 1418.51 L907 1418.36 L908 1418.2 L909 1418.03 L910 1417.87 L911 1417.7 L912 1417.52 L913 1417.34 L914 1417.16 L915 1416.97 L916 1416.78 L917 1416.58 L918 1416.38 L919 1416.18 L920 1415.97 L921 1415.75 L922 1415.53 L923 1415.31 L924 1415.08 L925 1414.85 L926 1414.61 L927 1414.37 L928 1414.12 L929 1413.87 L930 1413.61 L931 1413.34 L932 1413.07 L933 1412.8 L934 1412.52 L935 1412.23 L936 1411.94 L937 1411.64 L938 1411.34 L939 1411.03 L940 1410.71 L941 1410.39 L942 1410.06 L943 1409.72 L944 1409.38 L945 1409.03 L946 1408.67 L947 1408.31 L948 1407.94 L949 1407.56 L950 1407.18 L951 1406.78 L952 1406.38 L953 1405.98 L954 1405.56 L955 1405.14 L956 1404.71 L957 1404.27 L958 1403.83 L959 1403.37 L960 1402.91 L961 1402.44 L962 1401.96 L963 1401.47 L964 1400.97 L965 1400.47 L966 1399.95 L967 1399.43 L968 1398.9 L969 1398.35 L970 1397.8 L971 1397.24 L972 1396.67 L973 1396.09 L974 1395.5 L975 1394.9 L976 1394.29 L977 1393.67 L978 1393.03 L979 1392.39 L980 1391.74 L981 1391.08 L982 1390.4 L983 1389.72 L984 1389.02 L985 1388.31 L986 1387.59 L987 1386.86 L988 1386.12 L989 1385.37 L990 1384.6 L991 1383.82 L992 1383.04 L993 1382.23 L994 1381.42 L995 1380.59 L996 1379.75 L997 1378.9 L998 1378.04 L999 1377.16 L1000 1376.27 L1001 1375.36 L1002 1374.45 L1003 1373.51 L1004 1372.57 L1005 1371.61 L1006 1370.64 L1007 1369.65 L1008 1368.65 L1009 1367.64 L1010 1366.61 L1011 1365.57 L1012 1364.51 L1013 1363.44 L1014 1362.35 L1015 1361.25 L1016 1360.13 L1017 1359 L1018 1357.85 L1019 1356.68 L1020 1355.51 L1021 1354.31 L1022 1353.1 L1023 1351.87 L1024 1350.63 L1025 1349.37 L1026 1348.1 L1027 1346.81 L1028 1345.5 L1029 1344.17 L1030 1342.83 L1031 1341.47 L1032 1340.1 L1033 1338.71 L1034 1337.3 L1035 1335.87 L1036 1334.42 L1037 1332.96 L1038 1331.48 L1039 1329.99 L1040 1328.47 L1041 1326.94 L1042 1325.39 L1043 1323.82 L1044 1322.23 L1045 1320.63 L1046 1319 L1047 1317.36 L1048 1315.7 L1049 1314.02 L1050 1312.32 L1051 1310.6 L1052 1308.87 L1053 1307.11 L1054 1305.34 L1055 1303.54 L1056 1301.73 L1057 1299.9 L1058 1298.04 L1059 1296.17 L1060 1294.28 L1061 1292.37 L1062 1290.44 L1063 1288.49 L1064 1286.52 L1065 1284.53 L1066 1282.52 L1067 1280.48 L1068 1278.43 L1069 1276.36 L1070 1274.27 L1071 1272.16 L1072 1270.03 L1073 1267.87 L1074 1265.7 L1075 1263.51 L1076 1261.29 L1077 1259.06 L1078 1256.8 L1079 1254.53 L1080 1252.23 L1081 1249.91 L1082 1247.57 L1083 1245.21 L1084 1242.83 L1085 1240.43 L1086 1238.01 L1087 1235.57 L1088 1233.1 L1089 1230.62 L1090 1228.11 L1091 1225.59 L1092 1223.04 L1093 1220.47 L1094 1217.88 L1095 1215.27 L1096 1212.64 L1097 1209.99 L1098 1207.32 L1099 1204.62 L1100 1201.91 L1101 1199.17 L1102 1196.41 L1103 1193.64 L1104 1190.84 L1105 1188.02 L1106 1185.18 L1107 1182.32 L1108 1179.44 L1109 1176.54 L1110 1173.61 L1111 1170.67 L1112 1167.71 L1113 1164.72 L1114 1161.72 L1115 1158.7 L1116 1155.65 L1117 1152.59 L1118 1149.5 L1119 1146.4 L1120 1143.27 L1121 1140.13 L1122 1136.96 L1123 1133.78 L1124 1130.57 L1125 1127.35 L1126 1124.11 L1127 1120.85 L1128 1117.56 L1129 1114.26 L1130 1110.94 L1131 1107.61 L1132 1104.25 L1133 1100.87 L1134 1097.48 L1135 1094.07 L1136 1090.63 L1137 1087.19 L1138 1083.72 L1139 1080.23 L1140 1076.73 L1141 1073.21 L1142 1069.67 L1143 1066.12 L1144 1062.54 L1145 1058.95 L1146 1055.35 L1147 1051.72 L1148 1048.08 L1149 1044.43 L1150 1040.75 L1151 1037.07 L1152 1033.36 L1153 1029.64 L1154 1025.91 L1155 1022.15 L1156 1018.39 L1157 1014.61 L1158 1010.81 L1159 1007 L1160 1003.18 L1161 999.34 L1162 995.48 L1163 991.62 L1164 987.74 L1165 983.84 L1166 979.94 L1167 976.02 L1168 972.09 L1169 968.14 L1170 964.18 L1171 960.21 L1172 956.23 L1173 952.24 L1174 948.24 L1175 944.22 L1176 940.2 L1177 936.16 L1178 932.11 L1179 928.06 L1180 923.99 L1181 919.91 L1182 915.83 L1183 911.73 L1184 907.63 L1185 903.52 L1186 899.4 L1187 895.27 L1188 891.13 L1189 886.99 L1190 882.84 L1191 878.68 L1192 874.52 L1193 870.34 L1194 866.17 L1195 861.98 L1196 857.8 L1197 853.6 L1198 849.4 L1199 845.2 L1200 840.99 L1201 836.78 L1202 832.56 L1203 828.34 L1204 824.12 L1205 819.89 L1206 815.66 L1207 811.43 L1208 807.2 L1209 802.96 L1210 798.72 L1211 794.48 L1212 790.24 L1213 786 L1214 781.76 L1215 777.52 L1216 773.28 L1217 769.04 L1218 764.8 L1219 760.57 L1220 756.33 L1221 752.1 L1222 747.86 L1223 743.63 L1224 739.4 L1225 735.18 L1226 730.96 L1227 726.74 L1228 722.53 L1229 718.32 L1230 714.11 L1231 709.91 L1232 705.72 L1233 701.52 L1234 697.34 L1235 693.16 L1236 688.99 L1237 684.82 L1238 680.66 L1239 676.51 L1240 672.37 L1241 668.23 L1242 664.1 L1243 659.98 L1244 655.87 L1245 651.77 L1246 647.67 L1247 643.59 L1248 639.51 L1249 635.45 L1250 631.4 L1251 627.35 L1252 623.32 L1253 619.3 L1254 615.29 L1255 611.29 L1256 607.3 L1257 603.33 L1258 599.37 L1259 595.42 L1260 591.48 L1261 587.56 L1262 583.65 L1263 579.75 L1264 575.87 L1265 572.01 L1266 568.15 L1267 564.32 L1268 560.49 L1269 556.69 L1270 552.89 L1271 549.12 L1272 545.36 L1273 541.61 L1274 537.89 L1275 534.18 L1276 530.48 L1277 526.81 L1278 523.15 L1279 519.51 L1280 515.88 L1281 512.28 L1282 508.69 L1283 505.12 L1284 501.57 L1285 498.04 L1286 494.52 L1287 491.03 L1288 487.56 L1289 484.1 L1290 480.67 L1291 477.25 L1292 473.86 L1293 470.48 L1294 467.13 L1295 463.79 L1296 460.48 L1297 457.18 L1298 453.91 L1299 450.66 L1300 447.43 L1301 444.23 L1302 441.04 L1303 437.87 L1304 434.73 L1305 431.61 L1306 428.51 L1307 425.44 L1308 422.38 L1309 419.35 L1310 416.34 L1311 413.35 L1312 410.39 L1313 407.45 L1314 404.53 L1315 401.63 L1316 398.76 L1317 395.91 L1318 393.08 L1319 390.28 L1320 387.5 L1321 384.74 L1322 382.01 L1323 379.3 L1324 376.61 L1325 373.95 L1326 371.31 L1327 368.69 L1328 366.1 L1329 363.53 L1330 360.99 L1331 358.47 L1332 355.97 L1333 353.5 L1334 351.05 L1335 348.62 L1336 346.22 L1337 343.84 L1338 341.48 L1339 339.15 L1340 336.84 L1341 334.56 L1342 332.3 L1343 330.06 L1344 327.85 L1345 325.66 L1346 323.5 L1347 321.35 L1348 319.23 L1349 317.14 L1350 315.07 L1351 313.02 L1352 310.99 L1353 308.99 L1354 307.01 L1355 305.05 L1356 303.12 L1357 301.21 L1358 299.32 L1359 297.46 L1360 295.62 L1361 293.8 L1362 292 L1363 290.23 L1364 288.47 L1365 286.74 L1366 285.03 L1367 283.35 L1368 281.68 L1369 280.04 L1370 278.42 L1371 276.82 L1372 275.24 L1373 273.69 L1374 272.15 L1375 270.64 L1376 269.15 L1377 267.67 L1378 266.22 L1379 264.79 L1380 263.38 L1381 261.99 L1382 260.62 L1383 259.27 L1384 257.94 L1385 256.63 L1386 255.34 L1387 254.07 L1388 252.81 L1389 251.58 L1390 250.37 L1391 249.17 L1392 247.99 L1393 246.84 L1394 245.7 L1395 244.58 L1396 243.47 L1397 242.39 L1398 241.32 L1399 240.27 L1400 239.23 L1401 238.22 L1402 237.22 L1403 236.24 L1404 235.27 L1405 234.32 L1406 233.39 L1407 232.47 L1408 231.57 L1409 230.69 L1410 229.82 L1411 228.97 L1412 228.13 L1413 227.31 L1414 226.5 L1415 225.71 L1416 224.93 L1417 224.17 L1418 223.42 L1419 222.68 L1420 221.96 L1421 221.25 L1422 220.56 L1423 219.88 L1424 219.21 L1425 218.56 L1426 217.91 L1427 217.29 L1428 216.67 L1429 216.07 L1430 215.47 L1431 214.9 L1432 214.33 L1433 213.77 L1434 213.23 L1435 212.69 L1436 212.17 L1437 211.66 L1438 211.16 L1439 210.67 L1440 210.2 L1441 209.73 L1442 209.27 L1443 208.82 L1444 208.38 L1445 207.96 L1446 207.54 L1447 207.13 L1448 206.73 L1449 206.34 L1450 205.96 L1451 205.58 L1452 205.22 L1453 204.86 L1454 204.51 L1455 204.18 L1456 203.84 L1457 203.52 L1458 203.21 L1459 202.9 L1460 202.6 L1461 202.3 L1462 202.02 L1463 201.74 L1464 201.47 L1465 201.2 L1466 200.94 L1467 200.69 L1468 200.45 L1469 200.21 L1470 199.98 L1471 199.75 L1472 199.53 L1473 199.31 L1474 199.1 L1475 198.9 L1476 198.7 L1477 198.51 L1478 198.32 L1479 198.14 L1480 197.96 L1481 197.79 L1482 197.62 L1483 197.46 L1484 197.3 L1485 197.14 L1486 196.99 L1487 196.85 L1488 196.71 L1489 196.57 L1490 196.44 L1491 196.31 L1492 196.18 L1493 196.06 L1494 195.94 L1495 195.83 L1496 195.71 L1497 195.61 L1498 195.5 L1499 195.4 L1500 195.3 L1501 195.21 L1502 195.11 L1503 195.02 L1504 194.94 L1505 194.85 L1506 194.77 L1507 194.69 L1508 194.62 L1509 194.54 L1510 194.47 L1511 194.4 L1512 194.33 L1513 194.27 L1514 194.21 L1515 194.15 L1516 194.09 L1517 194.03 L1518 193.98 L1519 193.92 L1520 193.87 L1521 193.82 L1522 193.78 L1523 193.73 L1524 193.68 L1525 193.64 L1526 193.6 L1527 193.56 L1528 193.52 L1529 193.49 L1530 193.45 L1531 193.42 L1532 193.38 L1533 193.35 L1534 193.32 L1535 193.29 L1536 193.26 L1537 193.23 L1538 193.21 L1539 193.18 L1540 193.16 L1541 193.13 L1542 193.11 L1543 193.09 L1544 193.07 L1545 193.05 L1546 193.03 L1547 193.01 L1548 192.99 L1549 192.97 L1550 192.96 L1551 192.94 L1552 192.93 L1553 192.91 L1554 192.9 L1555 192.88 L1556 192.87 L1557 192.86 L1558 192.85 L1559 192.84 L1560 192.83 L1561 192.81 L1562 192.8 L1563 192.8 L1564 192.79 L1565 192.78 L1566 192.77 L1567 192.76 L1568 192.75 L1569 192.75 L1570 192.74 L1571 192.73 L1572 192.73 L1573 192.72 L1574 192.71 L1575 192.71 L1576 192.7 L1577 192.7 L1578 192.69 L1579 192.69 L1580 192.68 L1581 192.68 L1582 192.68 L1583 192.67 L1584 192.67 L1585 192.66 L1586 192.66 L1587 192.66 L1588 192.65 L1589 192.65 L1590 192.65 L1591 192.65 L1592 192.64 L1593 192.64 L1594 192.64 L1595 192.64 L1596 192.64 L1597 192.63 L1598 192.63 L1599 192.63 L1600 192.63 L1601 192.63 L1602 192.63 L1603 192.62 L1604 192.62 L1605 192.62 L1606 192.62 L1607 192.62 L1608 192.62 L1609 192.62 L1610 192.62 L1611 192.62 L1612 192.61 L1613 192.61 L1614 192.61 L1615 192.61 L1616 192.61 L1617 192.61 L1618 192.61 L1619 192.61 L1620 192.61 L1621 192.61 L1622 192.61 L1623 192.61 L1624 192.61 L1625 192.61 L1626 192.61 L1627 192.61 L1628 192.61 L1629 192.6 L1630 192.6 L1630.6 192.6" fill="none" stroke="#0000ff" stroke-width="11" stroke-linejoin="round" stroke-linecap="round"/>
<path d="M1365.5 1424.28 L1366.5 1424.27 L1367.5 1424.27 L1368.5 1424.27 L1369.5 1424.27 L1370.5 1424.26 L1371.5 1424.26 L1372.5 1424.26 L1373.5 1424.25 L1374.5 1424.25 L1375.5 1424.25 L1376.5 1424.24 L1377.5 1424.24 L1378.5 1424.23 L1379.5 1424.23 L1380.5 1424.22 L1381.5 1424.22 L1382.5 1424.21 L1383.5 1424.21 L1384.5 1424.2 L1385.5 1424.19 L1386.5 1424.19 L1387.5 1424.18 L1388.5 1424.17 L1389.5 1424.16 L1390.5 1424.15 L1391.5 1424.14 L1392.5 1424.13 L1393.5 1424.12 L1394.5 1424.11 L1395.5 1424.09 L1396.5 1424.08 L1397.5 1424.07 L1398.5 1424.05 L1399.5 1424.03 L1400.5 1424.02 L1401.5 1424 L1402.5 1423.98 L1403.5 1423.96 L1404.5 1423.94 L1405.5 1423.92 L1406.5 1423.89 L1407.5 1423.87 L1408.5 1423.84 L1409.5 1423.81 L1410.5 1423.78 L1411.5 1423.75 L1412.5 1423.72 L1413.5 1423.69 L1414.5 1423.65 L1415.5 1423.62 L1416.5 1423.58 L1417.5 1423.54 L1418.5 1423.49 L1419.5 1423.45 L1420.5 1423.4 L1421.5 1423.35 L1422.5 1423.3 L1423.5 1423.24 L1424.5 1423.19 L1425.5 1423.13 L1426.5 1423.06 L1427.5 1423 L1428.5 1422.93 L1429.5 1422.86 L1430.5 1422.78 L1431.5 1422.71 L1432.5 1422.62 L1433.5 1422.54 L1434.5 1422.45 L1435.5 1422.36 L1436.5 1422.26 L1437.5 1422.16 L1438.5 1422.05 L1439.5 1421.95 L1440.5 1421.83 L1441.5 1421.71 L1442.5 1421.59 L1443.5 1421.46 L1444.5 1421.33 L1445.5 1421.19 L1446.5 1421.04 L1447.5 1420.89 L1448.5 1420.74 L1449.5 1420.58 L1450.5 1420.41 L1451.5 1420.24 L1452.5 1420.06 L1453.5 1419.87 L1454.5 1419.67 L1455.5 1419.47 L1456.5 1419.26 L1457.5 1419.05 L1458.5 1418.82 L1459.5 1418.59 L1460.5 1418.35 L1461.5 1418.1 L1462.5 1417.85 L1463.5 1417.58 L1464.5 1417.31 L1465.5 1417.02 L1466.5 1416.73 L1467.5 1416.43 L1468.5 1416.12 L1469.5 1415.79 L1470.5 1415.46 L1471.5 1415.12 L1472.5 1414.76 L1473.5 1414.4 L1474.5 1414.02 L1475.5 1413.63 L1476.5 1413.23 L1477.5 1412.82 L1478.5 1412.39 L1479.5 1411.96 L1480.5 1411.51 L1481.5 1411.04 L1482.5 1410.57 L1483.5 1410.07 L1484.5 1409.57 L1485.5 1409.05 L1486.5 1408.52 L1487.5 1407.97 L1488.5 1407.41 L1489.5 1406.83 L1490.5 1406.23 L1491.5 1405.62 L1492.5 1405 L1493.5 1404.35 L1494.5 1403.69 L1495.5 1403.02 L1496.5 1402.32 L1497.5 1401.61 L1498.5 1400.88 L1499.5 1400.14 L1500.5 1399.37 L1501.5 1398.59 L1502.5 1397.78 L1503.5 1396.96 L1504.5 1396.12 L1505.5 1395.25 L1506.5 1394.37 L1507.5 1393.47 L1508.5 1392.55 L1509.5 1391.6 L1510.5 1390.64 L1511.5 1389.65 L1512.5 1388.64 L1513.5 1387.61 L1514.5 1386.55 L1515.5 1385.48 L1516.5 1384.38 L1517.5 1383.26 L1518.5 1382.11 L1519.5 1380.94 L1520.5 1379.75 L1521.5 1378.53 L1522.5 1377.29 L1523.5 1376.02 L1524.5 1374.73 L1525.5 1373.41 L1526.5 1372.07 L1527.5 1370.7 L1528.5 1369.3 L1529.5 1367.88 L1530.5 1366.44 L1531.5 1364.96 L1532.5 1363.46 L1533.5 1361.93 L1534.5 1360.38 L1535.5 1358.79 L1536.5 1357.18 L1537.5 1355.54 L1538.5 1353.88 L1539.5 1352.18 L1540.5 1350.46 L1541.5 1348.71 L1542.5 1346.92 L1543.5 1345.11 L1544.5 1343.27 L1545.5 1341.4 L1546.5 1339.5 L1547.5 1337.57 L1548.5 1335.62 L1549.5 1333.63 L1550.5 1331.61 L1551.5 1329.56 L1552.5 1327.48 L1553.5 1325.36 L1554.5 1323.22 L1555.5 1321.05 L1556.5 1318.85 L1557.5 1316.61 L1558.5 1314.34 L1559.5 1312.05 L1560.5 1309.72 L1561.5 1307.35 L1562.5 1304.96 L1563.5 1302.54 L1564.5 1300.08 L1565.5 1297.59 L1566.5 1295.07 L1567.5 1292.52 L1568.5 1289.94 L1569.5 1287.32 L1570.5 1284.67 L1571.5 1282 L1572.5 1279.28 L1573.5 1276.54 L1574.5 1273.76 L1575.5 1270.95 L1576.5 1268.11 L1577.5 1265.24 L1578.5 1262.34 L1579.5 1259.4 L1580.5 1256.43 L1581.5 1253.43 L1582.5 1250.4 L1583.5 1247.33 L1584.5 1244.24 L1585.5 1241.11 L1586.5 1237.95 L1587.5 1234.76 L1588.5 1231.54 L1589.5 1228.28 L1590.5 1225 L1591.5 1221.68 L1592.5 1218.33 L1593.5 1214.95 L1594.5 1211.54 L1595.5 1208.1 L1596.5 1204.63 L1597.5 1201.13 L1598.5 1197.6 L1599.5 1194.04 L1600.5 1190.44 L1601.5 1186.82 L1602.5 1183.17 L1603.5 1179.49 L1604.5 1175.78 L1605.5 1172.04 L1606.5 1168.27 L1607.5 1164.47 L1608.5 1160.65 L1609.5 1156.79 L1610.5 1152.91 L1611.5 1149 L1612.5 1145.06 L1613.5 1141.1 L1614.5 1137.1 L1615.5 1133.09 L1616.5 1129.04 L1617.5 1124.97 L1618.5 1120.87 L1619.5 1116.74 L1620.5 1112.59 L1621.5 1108.42 L1622.5 1104.22 L1623.5 1099.99 L1624.5 1095.74 L1625.5 1091.47 L1626.5 1087.17 L1627.5 1082.85 L1628.5 1078.51 L1629.5 1074.14 L1630.5 1069.75 L1631.5 1065.34 L1632.5 1060.9 L1633.5 1056.45 L1634.5 1051.97 L1635.5 1047.47 L1636.5 1042.96 L1637.5 1038.42 L1638.5 1033.86 L1639.5 1029.28 L1640.5 1024.68 L1641.5 1020.07 L1642.5 1015.44 L1643.5 1010.78 L1644.5 1006.11 L1645.5 1001.43 L1646.5 996.72 L1647.5 992 L1648.5 987.27 L1649.5 982.51 L1650.5 977.75 L1651.5 972.96 L1652.5 968.17 L1653.5 963.36 L1654.5 958.53 L1655.5 953.7 L1656.5 948.84 L1657.5 943.98 L1658.5 939.11 L1659.5 934.22 L1660.5 929.32 L1661.5 924.41 L1662.5 919.5 L1663.5 914.57 L1664.5 909.63 L1665.5 904.68 L1666.5 899.73 L1667.5 894.76 L1668.5 889.79 L1669.5 884.81 L1670.5 879.83 L1671.5 874.84 L1672.5 869.84 L1673.5 864.84 L1674.5 859.83 L1675.5 854.82 L1676.5 849.8 L1677.5 844.78 L1678.5 839.76 L1679.5 834.73 L1680.5 829.7 L1681.5 824.67 L1682.5 819.64 L1683.5 814.61 L1684.5 809.57 L1685.5 804.54 L1686.5 799.51 L1687.5 794.47 L1688.5 789.44 L1689.5 784.41 L1690.5 779.39 L1691.5 774.36 L1692.5 769.34 L1693.5 764.33 L1694.5 759.31 L1695.5 754.3 L1696.5 749.3 L1697.5 744.3 L1698.5 739.31 L1699.5 734.32 L1700.5 729.34 L1701.5 724.37 L1702.5 719.4 L1703.5 714.45 L1704.5 709.5 L1705.5 704.56 L1706.5 699.63 L1707.5 694.7 L1708.5 689.79 L1709.5 684.89 L1710.5 680.01 L1711.5 675.13 L1712.5 670.26 L1713.5 665.41 L1714.5 660.57 L1715.5 655.74 L1716.5 650.93 L1717.5 646.13 L1718.5 641.34 L1719.5 636.57 L1720.5 631.81 L1721.5 627.07 L1722.5 622.35 L1723.5 617.64 L1724.5 612.95 L1725.5 608.28 L1726.5 603.62 L1727.5 598.98 L1728.5 594.36 L1729.5 589.76 L1730.5 585.18 L1731.5 580.61 L1732.5 576.07 L1733.5 571.55 L1734.5 567.05 L1735.5 562.56 L1736.5 558.1 L1737.5 553.66 L1738.5 549.24 L1739.5 544.85 L1740.5 540.48 L1741.5 536.12 L1742.5 531.8 L1743.5 527.49 L1744.5 523.21 L1745.5 518.96 L1746.5 514.73 L1747.5 510.52 L1748.5 506.34 L1749.5 502.18 L1750.5 498.05 L1751.5 493.94 L1752.5 489.86 L1753.5 485.81 L1754.5 481.78 L1755.5 477.78 L1756.5 473.81 L1757.5 469.86 L1758.5 465.94 L1759.5 462.05 L1760.5 458.19 L1761.5 454.35 L1762.5 450.55 L1763.5 446.77 L1764.5 443.02 L1765.5 439.3 L1766.5 435.61 L1767.5 431.95 L1768.5 428.32 L1769.5 424.72 L1770.5 421.14 L1771.5 417.6 L1772.5 414.09 L1773.5 410.61 L1774.5 407.16 L1775.5 403.74 L1776.5 400.35 L1777.5 396.99 L1778.5 393.66 L1779.5 390.37 L1780.5 387.1 L1781.5 383.87 L1782.5 380.66 L1783.5 377.49 L1784.5 374.35 L1785.5 371.25 L1786.5 368.17 L1787.5 365.12 L1788.5 362.11 L1789.5 359.13 L1790.5 356.18 L1791.5 353.27 L1792.5 350.38 L1793.5 347.53 L1794.5 344.71 L1795.5 341.92 L1796.5 339.16 L1797.5 336.44 L1798.5 333.74 L1799.5 331.08 L1800.5 328.45 L1801.5 325.86 L1802.5 323.29 L1803.5 320.76 L1804.5 318.26 L1805.5 315.79 L1806.5 313.35 L1807.5 310.94 L1808.5 308.57 L1809.5 306.23 L1810.5 303.91 L1811.5 301.63 L1812.5 299.38 L1813.5 297.17 L1814.5 294.98 L1815.5 292.82 L1816.5 290.7 L1817.5 288.6 L1818.5 286.54 L1819.5 284.5 L1820.5 282.5 L1821.5 280.53 L1822.5 278.58 L1823.5 276.67 L1824.5 274.79 L1825.5 272.93 L1826.5 271.11 L1827.5 269.31 L1828.5 267.54 L1829.5 265.81 L1830.5 264.1 L1831.5 262.41 L1832.5 260.76 L1833.5 259.14 L1834.5 257.54 L1835.5 255.97 L1836.5 254.43 L1837.5 252.91 L1838.5 251.42 L1839.5 249.96 L1840.5 248.53 L1841.5 247.12 L1842.5 245.74 L1843.5 244.38 L1844.5 243.05 L1845.5 241.74 L1846.5 240.46 L1847.5 239.21 L1848.5 237.98 L1849.5 236.77 L1850.5 235.58 L1851.5 234.43 L1852.5 233.29 L1853.5 232.18 L1854.5 231.09 L1855.5 230.02 L1856.5 228.98 L1857.5 227.95 L1858.5 226.95 L1859.5 225.98 L1860.5 225.02 L1861.5 224.08 L1862.5 223.17 L1863.5 222.27 L1864.5 221.4 L1865.5 220.54 L1866.5 219.71 L1867.5 218.89 L1868.5 218.1 L1869.5 217.32 L1870.5 216.56 L1871.5 215.82 L1872.5 215.1 L1873.5 214.39 L1874.5 213.7 L1875.5 213.03 L1876.5 212.38 L1877.5 211.74 L1878.5 211.12 L1879.5 210.52 L1880.5 209.93 L1881.5 209.35 L1882.5 208.8 L1883.5 208.25 L1884.5 207.72 L1885.5 207.21 L1886.5 206.71 L1887.5 206.22 L1888.5 205.75 L1889.5 205.29 L1890.5 204.85 L1891.5 204.41 L1892.5 203.99 L1893.5 203.58 L1894.5 203.18 L1895.5 202.8 L1896.5 202.43 L1897.5 202.06 L1898.5 201.71 L1899.5 201.37 L1900.5 201.04 L1901.5 200.72 L1902.5 200.41 L1903.5 200.11 L1904.5 199.82 L1905.5 199.54 L1906.5 199.27 L1907.5 199.01 L1908.5 198.75 L1909.5 198.5 L1910.5 198.27 L1911.5 198.04 L1912.5 197.82 L1913.5 197.6 L1914.5 197.39 L1915.5 197.19 L1916.5 197 L1917.5 196.82 L1918.5 196.64 L1919.5 196.46 L1920.5 196.3 L1921.5 196.14 L1922.5 195.98 L1923.5 195.83 L1924.5 195.69 L1925.5 195.55 L1926.5 195.42 L1927.5 195.29 L1928.5 195.17 L1929.5 195.05 L1930.5 194.94 L1931.5 194.83 L1932.5 194.73 L1933.5 194.63 L1934.5 194.53 L1935.5 194.44 L1936.5 194.35 L1937.5 194.27 L1938.5 194.19 L1939.5 194.11 L1940.5 194.03 L1941.5 193.96 L1942.5 193.9 L1943.5 193.83 L1944.5 193.77 L1945.5 193.71 L1946.5 193.65 L1947.5 193.6 L1948.5 193.55 L1949.5 193.5 L1950.5 193.45 L1951.5 193.4 L1952.5 193.36 L1953.5 193.32 L1954.5 193.28 L1955.5 193.24 L1956.5 193.21 L1957.5 193.18 L1958.5 193.14 L1959.5 193.11 L1960.5 193.08 L1961.5 193.06 L1962.5 193.03 L1963.5 193.01 L1964.5 192.98 L1965.5 192.96 L1966.5 192.94 L1967.5 192.92 L1968.5 192.9 L1969.5 192.88 L1970.5 192.87 L1971.5 192.85 L1972.5 192.83 L1973.5 192.82 L1974.5 192.81 L1975.5 192.79 L1976.5 192.78 L1977.5 192.77 L1978.5 192.76 L1979.5 192.75 L1980.5 192.74 L1981.5 192.73 L1982.5 192.72 L1983.5 192.71 L1984.5 192.71 L1985.5 192.7 L1986.5 192.69 L1987.5 192.69 L1988.5 192.68 L1989.5 192.68 L1990.5 192.67 L1991.5 192.67 L1992.5 192.66 L1993.5 192.66 L1994.5 192.65 L1995.5 192.65 L1996.5 192.65 L1997.5 192.64 L1998.5 192.64 L1999.5 192.64 L2000.5 192.63 L2001.5 192.63 L2002.5 192.63 L2003.5 192.63 L2004.5 192.62 L2005.5 192.62 L2006.5 192.62 L2007.5 192.62 L2008.5 192.62 L2009.5 192.62 L2010.5 192.62 L2011.5 192.61 L2012.5 192.61 L2013.5 192.61 L2014.5 192.61 L2015.5 192.61 L2016.5 192.61 L2017.5 192.61 L2018.5 192.61 L2019.5 192.61 L2020.5 192.61 L2021.5 192.61 L2022.5 192.61 L2023.5 192.61 L2024.5 192.6 L2025.5 192.6 L2026.5 192.6 L2027.5 192.6 L2028.5 192.6 L2029.5 192.6 L2030.5 192.6 L2031.5 192.6 L2032.5 192.6 L2033.5 192.6 L2034.5 192.6 L2035.5 192.6 L2036.5 192.6 L2037.5 192.6 L2038.5 192.6 L2039.5 192.6 L2040.5 192.6 L2041.5 192.6 L2042.5 192.6 L2043.5 192.6 L2044.5 192.6 L2045.5 192.6 L2046.5 192.6 L2047.5 192.6 L2048.5 192.6 L2049.5 192.6 L2050.5 192.6 L2051.5 192.6 L2052.5 192.6 L2053.5 192.6 L2054.5 192.6 L2055.5 192.6 L2056 192.6" fill="none" stroke="#808000" stroke-width="11" stroke-linejoin="round" stroke-linecap="round"/>
<line x1="292" y1="289.4" x2="445.6" y2="289.4" stroke="#000000" stroke-width="10.8" stroke-linecap="round"/>
<line x1="292" y1="382.3" x2="445.6" y2="382.3" stroke="#ff0000" stroke-width="10.8" stroke-linecap="round"/>
<line x1="292" y1="474.5" x2="445.6" y2="474.5" stroke="#0000ff" stroke-width="10.8" stroke-linecap="round"/>
<line x1="292" y1="568.2" x2="445.6" y2="568.2" stroke="#808000" stroke-width="10.8" stroke-linecap="round"/>
<g fill="#000" stroke="#000" stroke-width="0.8" font-size="69.5">
<text transform="translate(464.4,313.3) scale(1,1.02)" font-family="Liberation Sans, Arial, sans-serif">5 </text>
<text transform="translate(520.7,314.8) scale(0.985,0.9)" font-family="'Noto Sans CJK JP', 'Liberation Serif', serif">µ</text>
<text transform="translate(561.3,313.3) scale(1,1.02)" font-family="Liberation Sans, Arial, sans-serif">m</text>
</g>
<g fill="#000" stroke="#000" stroke-width="0.8" font-size="69.5">
<text transform="translate(464.4,406.6) scale(1,1.02)" font-family="Liberation Sans, Arial, sans-serif">10 </text>
<text transform="translate(558.9,408.1) scale(0.985,0.9)" font-family="'Noto Sans CJK JP', 'Liberation Serif', serif">µ</text>
<text transform="translate(599.9,406.6) scale(1,1.02)" font-family="Liberation Sans, Arial, sans-serif">m</text>
</g>
<g fill="#000" stroke="#000" stroke-width="0.8" font-size="69.5">
<text transform="translate(464.4,499) scale(1,1.02)" font-family="Liberation Sans, Arial, sans-serif">15 </text>
<text transform="translate(558.9,500.5) scale(0.985,0.9)" font-family="'Noto Sans CJK JP', 'Liberation Serif', serif">µ</text>
<text transform="translate(599.9,499) scale(1,1.02)" font-family="Liberation Sans, Arial, sans-serif">m</text>
</g>
<g fill="#000" stroke="#000" stroke-width="0.8" font-size="69.5">
<text transform="translate(464.4,592.5) scale(1,1.02)" font-family="Liberation Sans, Arial, sans-serif">50 </text>
<text transform="translate(558.9,594) scale(0.985,0.9)" font-family="'Noto Sans CJK JP', 'Liberation Serif', serif">µ</text>
<text transform="translate(599.9,592.5) scale(1,1.02)" font-family="Liberation Sans, Arial, sans-serif">m</text>
</g>
<g stroke="#000" stroke-width="11" fill="none" stroke-linecap="square">
<path d="M2076 70.5 L259.5 70.5 L259.5 1427.5" stroke-linejoin="bevel"/>
<line x1="259.5" y1="1427.5" x2="2076" y2="1427.5" stroke-linecap="butt"/>
</g>
<line x1="439.55" y1="70.5" x2="439.55" y2="83.5" stroke="#000" stroke-width="11" stroke-linecap="round"/>
<line x1="439.55" y1="1427.5" x2="439.55" y2="1414.5" stroke="#000" stroke-width="11" stroke-linecap="round"/>
<line x1="567.61" y1="70.5" x2="567.61" y2="83.5" stroke="#000" stroke-width="11" stroke-linecap="round"/>
<line x1="567.61" y1="1427.5" x2="567.61" y2="1414.5" stroke="#000" stroke-width="11" stroke-linecap="round"/>
<line x1="666.94" y1="70.5" x2="666.94" y2="83.5" stroke="#000" stroke-width="11" stroke-linecap="round"/>
<line x1="666.94" y1="1427.5" x2="666.94" y2="1414.5" stroke="#000" stroke-width="11" stroke-linecap="round"/>
<line x1="748.11" y1="70.5" x2="748.11" y2="83.5" stroke="#000" stroke-width="11" stroke-linecap="round"/>
<line x1="748.11" y1="1427.5" x2="748.11" y2="1414.5" stroke="#000" stroke-width="11" stroke-linecap="round"/>
<line x1="816.73" y1="70.5" x2="816.73" y2="83.5" stroke="#000" stroke-width="11" stroke-linecap="round"/>
<line x1="816.73" y1="1427.5" x2="816.73" y2="1414.5" stroke="#000" stroke-width="11" stroke-linecap="round"/>
<line x1="876.17" y1="70.5" x2="876.17" y2="83.5" stroke="#000" stroke-width="11" stroke-linecap="round"/>
<line x1="876.17" y1="1427.5" x2="876.17" y2="1414.5" stroke="#000" stroke-width="11" stroke-linecap="round"/>
<line x1="928.6" y1="70.5" x2="928.6" y2="83.5" stroke="#000" stroke-width="11" stroke-linecap="round"/>
<line x1="928.6" y1="1427.5" x2="928.6" y2="1414.5" stroke="#000" stroke-width="11" stroke-linecap="round"/>
<line x1="1284.06" y1="70.5" x2="1284.06" y2="83.5" stroke="#000" stroke-width="11" stroke-linecap="round"/>
<line x1="1284.06" y1="1427.5" x2="1284.06" y2="1414.5" stroke="#000" stroke-width="11" stroke-linecap="round"/>
<line x1="1464.55" y1="70.5" x2="1464.55" y2="83.5" stroke="#000" stroke-width="11" stroke-linecap="round"/>
<line x1="1464.55" y1="1427.5" x2="1464.55" y2="1414.5" stroke="#000" stroke-width="11" stroke-linecap="round"/>
<line x1="1592.61" y1="70.5" x2="1592.61" y2="83.5" stroke="#000" stroke-width="11" stroke-linecap="round"/>
<line x1="1592.61" y1="1427.5" x2="1592.61" y2="1414.5" stroke="#000" stroke-width="11" stroke-linecap="round"/>
<line x1="1691.94" y1="70.5" x2="1691.94" y2="83.5" stroke="#000" stroke-width="11" stroke-linecap="round"/>
<line x1="1691.94" y1="1427.5" x2="1691.94" y2="1414.5" stroke="#000" stroke-width="11" stroke-linecap="round"/>
<line x1="1773.11" y1="70.5" x2="1773.11" y2="83.5" stroke="#000" stroke-width="11" stroke-linecap="round"/>
<line x1="1773.11" y1="1427.5" x2="1773.11" y2="1414.5" stroke="#000" stroke-width="11" stroke-linecap="round"/>
<line x1="1841.73" y1="70.5" x2="1841.73" y2="83.5" stroke="#000" stroke-width="11" stroke-linecap="round"/>
<line x1="1841.73" y1="1427.5" x2="1841.73" y2="1414.5" stroke="#000" stroke-width="11" stroke-linecap="round"/>
<line x1="1901.17" y1="70.5" x2="1901.17" y2="83.5" stroke="#000" stroke-width="11" stroke-linecap="round"/>
<line x1="1901.17" y1="1427.5" x2="1901.17" y2="1414.5" stroke="#000" stroke-width="11" stroke-linecap="round"/>
<line x1="1953.6" y1="70.5" x2="1953.6" y2="83.5" stroke="#000" stroke-width="11" stroke-linecap="round"/>
<line x1="1953.6" y1="1427.5" x2="1953.6" y2="1414.5" stroke="#000" stroke-width="11" stroke-linecap="round"/>
<line x1="975.5" y1="70.5" x2="975.5" y2="96.5" stroke="#000" stroke-width="11" stroke-linecap="round"/>
<line x1="975.5" y1="1427.5" x2="975.5" y2="1401.5" stroke="#000" stroke-width="11" stroke-linecap="round"/>
<line x1="2000.5" y1="70.5" x2="2000.5" y2="96.5" stroke="#000" stroke-width="11" stroke-linecap="round"/>
<line x1="2000.5" y1="1427.5" x2="2000.5" y2="1401.5" stroke="#000" stroke-width="11" stroke-linecap="round"/>
<line x1="259.5" y1="1426.5" x2="284.5" y2="1426.5" stroke="#000" stroke-width="11" stroke-linecap="round"/>
<line x1="259.5" y1="1180" x2="284.5" y2="1180" stroke="#000" stroke-width="11" stroke-linecap="round"/>
<line x1="259.5" y1="933.5" x2="284.5" y2="933.5" stroke="#000" stroke-width="11" stroke-linecap="round"/>
<line x1="259.5" y1="687" x2="284.5" y2="687" stroke="#000" stroke-width="11" stroke-linecap="round"/>
<line x1="259.5" y1="440.5" x2="284.5" y2="440.5" stroke="#000" stroke-width="11" stroke-linecap="round"/>
<line x1="259.5" y1="194" x2="284.5" y2="194" stroke="#000" stroke-width="11" stroke-linecap="round"/>
<line x1="259.5" y1="1303.25" x2="272.5" y2="1303.25" stroke="#000" stroke-width="11" stroke-linecap="round"/>
<line x1="259.5" y1="1056.75" x2="272.5" y2="1056.75" stroke="#000" stroke-width="11" stroke-linecap="round"/>
<line x1="259.5" y1="810.25" x2="272.5" y2="810.25" stroke="#000" stroke-width="11" stroke-linecap="round"/>
<line x1="259.5" y1="563.75" x2="272.5" y2="563.75" stroke="#000" stroke-width="11" stroke-linecap="round"/>
<line x1="259.5" y1="317.25" x2="272.5" y2="317.25" stroke="#000" stroke-width="11" stroke-linecap="round"/>
<line x1="259.5" y1="70.75" x2="272.5" y2="70.75" stroke="#000" stroke-width="11" stroke-linecap="round"/>
<polygon points="2076,65 2085,65 2088,68 2088,1430 2085,1433 2076,1433" fill="#0000ff"/>
<line x1="2082" y1="1427.5" x2="2056" y2="1427.5" stroke="#0000ff" stroke-width="11" stroke-linecap="round"/>
<line x1="2082" y1="1180" x2="2056" y2="1180" stroke="#0000ff" stroke-width="11" stroke-linecap="round"/>
<line x1="2082" y1="933.5" x2="2056" y2="933.5" stroke="#0000ff" stroke-width="11" stroke-linecap="round"/>
<line x1="2082" y1="687" x2="2056" y2="687" stroke="#0000ff" stroke-width="11" stroke-linecap="round"/>
<line x1="2082" y1="440.5" x2="2056" y2="440.5" stroke="#0000ff" stroke-width="11" stroke-linecap="round"/>
<line x1="2082" y1="194" x2="2056" y2="194" stroke="#0000ff" stroke-width="11" stroke-linecap="round"/>
<line x1="2082" y1="1303.25" x2="2069" y2="1303.25" stroke="#0000ff" stroke-width="11" stroke-linecap="round"/>
<line x1="2082" y1="1056.75" x2="2069" y2="1056.75" stroke="#0000ff" stroke-width="11" stroke-linecap="round"/>
<line x1="2082" y1="810.25" x2="2069" y2="810.25" stroke="#0000ff" stroke-width="11" stroke-linecap="round"/>
<line x1="2082" y1="563.75" x2="2069" y2="563.75" stroke="#0000ff" stroke-width="11" stroke-linecap="round"/>
<line x1="2082" y1="317.25" x2="2069" y2="317.25" stroke="#0000ff" stroke-width="11" stroke-linecap="round"/>
<line x1="2082" y1="70.5" x2="2069" y2="70.5" stroke="#0000ff" stroke-width="11" stroke-linecap="round"/>
<text transform="translate(230.2,1443.5) scale(1,1.04)" text-anchor="end" font-family="Liberation Sans, Arial, sans-serif" font-weight="bold" font-size="58" stroke="#000" stroke-width="0.5">0</text>
<text transform="translate(230.2,1197) scale(1,1.04)" text-anchor="end" font-family="Liberation Sans, Arial, sans-serif" font-weight="bold" font-size="58" stroke="#000" stroke-width="0.5">5</text>
<text transform="translate(230.2,950.5) scale(1,1.04)" text-anchor="end" font-family="Liberation Sans, Arial, sans-serif" font-weight="bold" font-size="58" stroke="#000" stroke-width="0.5">10</text>
<text transform="translate(230.2,704) scale(1,1.04)" text-anchor="end" font-family="Liberation Sans, Arial, sans-serif" font-weight="bold" font-size="58" stroke="#000" stroke-width="0.5">15</text>
<text transform="translate(230.2,457.5) scale(1,1.04)" text-anchor="end" font-family="Liberation Sans, Arial, sans-serif" font-weight="bold" font-size="58" stroke="#000" stroke-width="0.5">20</text>
<text transform="translate(230.2,211) scale(1,1.04)" text-anchor="end" font-family="Liberation Sans, Arial, sans-serif" font-weight="bold" font-size="58" stroke="#000" stroke-width="0.5">25</text>
<text transform="translate(2109.5,1444) scale(1,1.04)" font-family="Liberation Sans, Arial, sans-serif" font-size="58" fill="#0000ff" stroke="#0000ff" stroke-width="0.8">0</text>
<text transform="translate(2109.5,1197.5) scale(1,1.04)" font-family="Liberation Sans, Arial, sans-serif" font-size="58" fill="#0000ff" stroke="#0000ff" stroke-width="0.8">20</text>
<text transform="translate(2109.5,951) scale(1,1.04)" font-family="Liberation Sans, Arial, sans-serif" font-size="58" fill="#0000ff" stroke="#0000ff" stroke-width="0.8">40</text>
<text transform="translate(2109.5,704.5) scale(1,1.04)" font-family="Liberation Sans, Arial, sans-serif" font-size="58" fill="#0000ff" stroke="#0000ff" stroke-width="0.8">60</text>
<text transform="translate(2109.5,458) scale(1,1.04)" font-family="Liberation Sans, Arial, sans-serif" font-size="58" fill="#0000ff" stroke="#0000ff" stroke-width="0.8">80</text>
<text transform="translate(2109.5,211.5) scale(1,1.04)" font-family="Liberation Sans, Arial, sans-serif" font-size="58" fill="#0000ff" stroke="#0000ff" stroke-width="0.8">100</text>
<text transform="translate(976.3,1498.5) scale(1,1.04)" text-anchor="middle" font-family="Liberation Sans, Arial, sans-serif" font-weight="bold" font-size="58" stroke="#000" stroke-width="0.5">10</text>
<text transform="translate(2001.3,1498.5) scale(1,1.04)" text-anchor="middle" font-family="Liberation Sans, Arial, sans-serif" font-weight="bold" font-size="58" stroke="#000" stroke-width="0.5">100</text>
<text transform="translate(884.95,1575.5) scale(1,1.0)" font-family="Liberation Sans, Arial, sans-serif" font-weight="bold" font-size="69.5" stroke="#000" stroke-width="0.5">Particle size (</text>
<text transform="translate(1325.7,1578.2) scale(0.94,0.88)" font-family="'Noto Sans CJK JP', 'Liberation Serif', serif" font-weight="bold" font-size="69.5" stroke="#000" stroke-width="0.5">µ</text>
<text transform="translate(1366.2,1575.5) scale(1,1.0)" font-family="Liberation Sans, Arial, sans-serif" font-weight="bold" font-size="69.5" stroke="#000" stroke-width="0.5">m)</text>
<text transform="translate(116.9,1121.38) rotate(-90) scale(1,1.0)" font-family="Liberation Sans, Arial, sans-serif" font-weight="bold" font-size="70.2" stroke="#000" stroke-width="0.5">Volume fraction (%)</text>
<text transform="translate(2290,1183.75) rotate(-90) scale(1,1.0)" font-family="Liberation Sans, Arial, sans-serif" font-weight="bold" font-size="69.5" fill="#0000ff" stroke="#0000ff" stroke-width="0.5">Cumulative fraction (%)</text>
</svg>
</body></html>
